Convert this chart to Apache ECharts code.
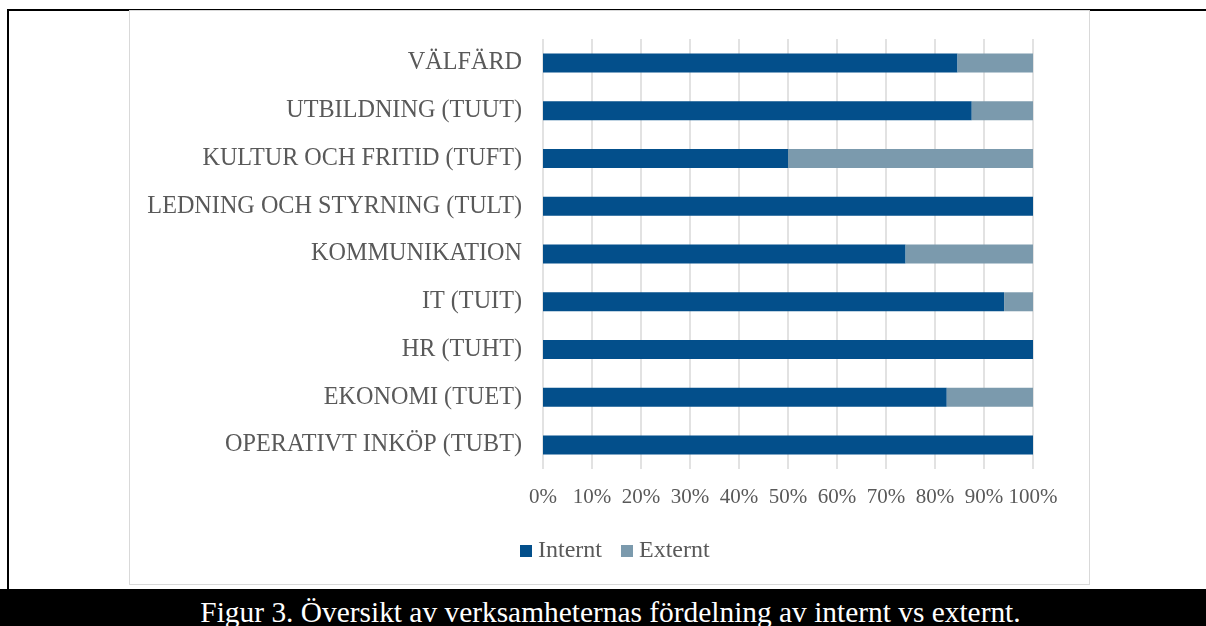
<!DOCTYPE html>
<html>
<head>
    <meta charset="utf-8">
    <title>Internt vs externt</title>
    <script src="https://cdn.jsdelivr.net/npm/echarts@6/dist/echarts.min.js"></script>
    <style>
        body { margin: 0; background: #fff; width: 1206px; height: 626px; position: relative; overflow: hidden; }
        #topline { position: absolute; left: 7px; top: 9px; width: 1199px; height: 2px; background: #000; }
        #leftline { position: absolute; left: 7px; top: 9px; width: 2px; height: 582px; background: #000; }
        #box { position: absolute; left: 129px; top: 10px; width: 961px; height: 575px; border: 1.5px solid #d9d9d9; box-sizing: border-box; }
        #main { position: absolute; left: 130px; top: 10px; width: 961px; height: 575px; }
        #band { position: absolute; left: 0; top: 589px; width: 1206px; height: 37px; background: #000; overflow: hidden; }
        #caption { position: absolute; left: 0; width: 1221px; top: 8px; text-align: center; color: #fff;
            font-family: "Liberation Serif", "DejaVu Serif", serif; font-size: 29.4px; line-height: 30px; white-space: nowrap; }
    </style>
</head>
<body>
    <div id="topline"></div>
    <div id="leftline"></div>
    <div id="box"></div>
    <div id="main"></div>
    <div id="band"><div id="caption">Figur 3. Översikt av verksamheternas fördelning av internt vs externt.</div></div>
    <script type="text/javascript">
        // kategorier uppifrån och ned
        var categories = ['VÄLFÄRD', 'UTBILDNING (TUUT)', 'KULTUR OCH FRITID (TUFT)', 'LEDNING OCH STYRNING (TULT)',
            'KOMMUNIKATION', 'IT (TUIT)', 'HR (TUHT)', 'EKONOMI (TUET)', 'OPERATIVT INKÖP (TUBT)'];
        var internt = [84.6, 87.5, 50, 100, 74, 94.1, 100, 82.4, 100];
        var externt = [15.4, 12.5, 50, 0, 26, 5.9, 0, 17.6, 0];
        var xTicks = [0, 10, 20, 30, 40, 50, 60, 70, 80, 90, 100];

        var font = '"Liberation Serif", "Times New Roman", serif';
        var myChart = echarts.init(document.getElementById('main'));

        var option = {
            animation: false,
            legend: {
                data: ['Internt', 'Externt'],
                left: 390,
                top: 529,
                padding: 0,
                itemWidth: 12,
                itemHeight: 12,
                itemGap: 19,
                icon: 'rect',
                textStyle: { fontFamily: font, fontSize: 24, color: '#595959', padding: [0, 0, 0, 1] }
            },
            grid: { left: 413, top: 29, width: 490, height: 430, containLabel: false },
            xAxis: {
                type: 'value',
                min: 0,
                max: 100,
                interval: 10,
                axisLine: { show: false },
                axisTick: { show: false },
                splitLine: { lineStyle: { color: '#d9d9d9', width: 1.5 } },
                axisLabel: {
                    margin: 18,
                    fontFamily: font, fontSize: 21, color: '#595959',
                    formatter: function (v) { return xTicks.indexOf(v) >= 0 ? v + '%' : ''; }
                }
            },
            yAxis: {
                type: 'category',
                inverse: true,
                data: categories,
                axisLine: { show: false },
                axisTick: { show: false },
                axisLabel: { margin: 21, fontFamily: font, fontSize: 24.2, color: '#595959', padding: [3, 0, 0, 0] }
            },
            series: [
                {
                    name: 'Internt',
                    type: 'bar',
                    stack: 'total',
                    barWidth: 19,
                    itemStyle: { color: '#034F8B' },
                    data: internt
                },
                {
                    name: 'Externt',
                    type: 'bar',
                    stack: 'total',
                    barWidth: 19,
                    itemStyle: { color: '#7B9AAD' },
                    data: externt
                }
            ]
        };
        myChart.setOption(option);
    </script>
</body>
</html>
